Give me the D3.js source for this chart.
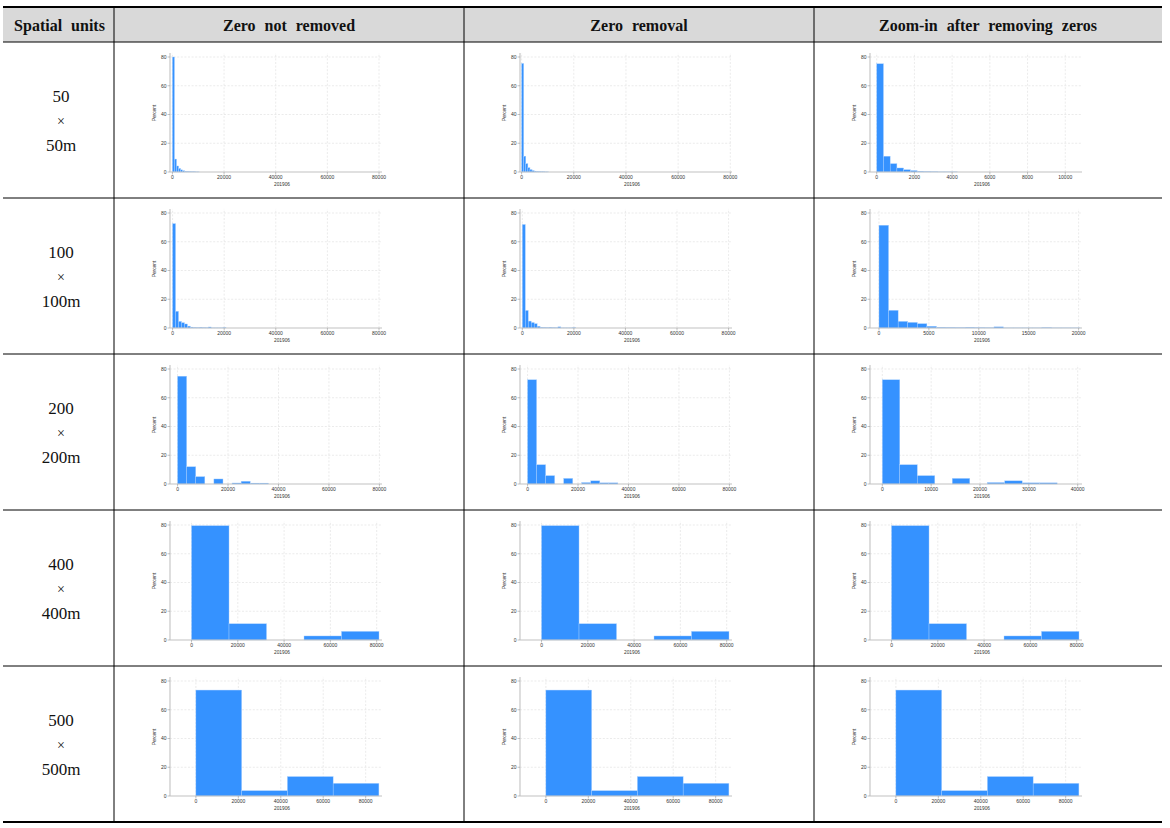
<!DOCTYPE html>
<html><head><meta charset="utf-8">
<script src="https://cdn.jsdelivr.net/npm/d3@7"></script>
<style>body{margin:0;background:#fff}</style>
</head><body>
<svg id="c" width="1170" height="828"></svg>
<script>
// ---------- data ----------
const colHeaders = ["Spatial units", "Zero not removed", "Zero removal", "Zoom-in after removing zeros"];
const rowLabels = [["50", "×", "50m"], ["100", "×", "100m"], ["200", "×", "200m"], ["400", "×", "400m"], ["500", "×", "500m"]];
const xTitle = "201906";
const yTitle = "Percent";
const yTicks = [0, 20, 40, 60, 80];
const ticks80k = [0, 20000, 40000, 60000, 80000];
const ticks10k = [0, 2000, 4000, 6000, 8000, 10000];
const ticks20k = [0, 5000, 10000, 15000, 20000];
const ticks40k = [0, 10000, 20000, 30000, 40000];

// bin widths (row x column)
const binWidths = [
  [800, 800, 357],
  [1150, 1150, 960],
  [3600, 3580, 3580],
  [16200, 16200, 16200],
  [21560, 21560, 21560]
];
// percent per bin
const p50raw  = [80, 9, 4.2, 2.5, 1.5, 0.9, 0.5, 0.4, 0.3, 0.2, 0.2, 0.1, 0.1];
const p50nz   = [75.5, 11, 5.8, 3, 1.7, 1, 0.6, 0.4, 0.3, 0.2, 0.2, 0.1, 0.1];
const p50zoom = [75.3, 11, 5.8, 2.8, 1.6, 1.0, 0.5, 0.3, 0.2, 0.1, 0.1, 0.1];
const p100raw  = [72.6, 11.6, 4.6, 3.7, 2.8, 1.3, 0.6, 0.4, 0.3, 0.5, 0.3, 0.2, 0.7, 0.1, 0.1, 0.1, 0.1, 0.3];
const p100nz   = [72, 12.2, 4.8, 3.8, 3.0, 1.2, 0.5, 0.4, 0.3, 0.5, 0.3, 0.2, 0.8, 0.1, 0.1, 0.1, 0.1, 0.3];
const p100zoom = [71.5, 12.3, 4.6, 3.9, 3.0, 1.2, 0.5, 0.4, 0.3, 0.5, 0.3, 0.2, 0.8, 0.1, 0.1, 0.1, 0.1, 0.3, 0.1, 0.1, 0.1];
const p200raw  = [75, 12, 5.1, 0, 3.5, 0, 0.7, 1.9, 0.6, 0.6];
const p200nz   = [72.5, 13.4, 5.8, 0, 3.9, 0, 1.0, 2.2, 0.8, 0.8];
const p200zoom = [72.5, 13.4, 5.8, 0, 3.9, 0, 1.0, 2.2, 0.8, 0.8];
const p400raw  = [79.5, 11.3, 0, 2.8, 6.0];
const p400nz   = [79.5, 11.3, 0, 2.8, 6.0];
const p400zoom = [79.5, 11.3, 0, 2.8, 6.0];
const p500raw  = [73.7, 3.7, 13.5, 8.8];
const p500nz   = [73.7, 3.7, 13.5, 8.8];
const p500zoom = [73.7, 3.7, 13.5, 8.8];

const percents = [
  [p50raw, p50nz, p50zoom],
  [p100raw, p100nz, p100zoom],
  [p200raw, p200nz, p200zoom],
  [p400raw, p400nz, p400zoom],
  [p500raw, p500nz, p500zoom]
];
// x axis extents (data units) per panel
const xExtents = [
  [[-930, 81150], [-620, 80650], [-356, 10887]],
  [[-1000, 81160], [-900, 81330], [-900, 20340]],
  [[-3000, 81030], [-3000, 81030], [-2520, 40880]],
  [[-9300, 82300], [-9300, 82300], [-9300, 82300]],
  [[-12200, 87700], [-12200, 87700], [-12200, 87700]]
];
const xTickSets = [
  [ticks80k, ticks80k, ticks10k],
  [ticks80k, ticks80k, ticks20k],
  [ticks80k, ticks80k, ticks40k],
  [ticks80k, ticks80k, ticks80k],
  [ticks80k, ticks80k, ticks80k]
];

// ---------- layout ----------
const colX = [3, 114, 464, 814, 1162];
const rowY = [42, 198, 354, 510, 666, 822];
const tableTop = 7;
const svg = d3.select("#c");

// header background
svg.append("rect").attr("x", colX[0]).attr("y", tableTop + 1)
  .attr("width", colX[4] - colX[0]).attr("height", rowY[0] - tableTop - 1)
  .attr("fill", "#d9d9d9");

colHeaders.forEach((h, i) => {
  svg.append("text")
    .attr("x", (colX[i] + colX[i + 1]) / 2 + (i === 0 ? 1 : 0))
    .attr("y", 30.5)
    .attr("text-anchor", "middle")
    .attr("font-family", "Liberation Serif, Times New Roman, serif")
    .attr("font-weight", "bold")
    .attr("font-size", 16)
    .attr("word-spacing", 5)
    .attr("fill", "#111")
    .text(h);
});

rowLabels.forEach((lab, r) => {
  const cy = (rowY[r] + rowY[r + 1]) / 2;
  lab.forEach((t, k) => {
    svg.append("text")
      .attr("x", 61)
      .attr("y", cy + (k - 1) * 24.5 + 6)
      .attr("text-anchor", "middle")
      .attr("font-family", "Liberation Serif, Times New Roman, serif")
      .attr("font-size", k === 1 ? 14 : 17)
      .attr("fill", "#111")
      .text(t);
  });
});

// ---------- panels ----------
const barFill = "#3592ff";
const barEdge = "#a9d0ff";
const axisCol = "#c2c2c2";
const gridCol = "#e3e3e3";
const txtCol = "#333";

for (let r = 0; r < 5; r++) {
  for (let c = 0; c < 3; c++) {
    const cx = colX[c + 1], cy = rowY[r];
    const xs = d3.scaleLinear().domain(xExtents[r][c]).range([cx + 56, cx + 268]);
    const ys = d3.scaleLinear().domain([0, 80]).range([cy + 130, cy + 15]);
    const g = svg.append("g");
    const yTop = 82.8;
    const [xl, xh] = xExtents[r][c];
    const ticks = xTickSets[r][c];

    // grid
    g.selectAll(".hg").data(yTicks.filter(d => d > 0)).join("line")
      .attr("x1", xs(xl)).attr("x2", xs(xh))
      .attr("y1", d => ys(d)).attr("y2", d => ys(d))
      .attr("stroke", gridCol).attr("stroke-width", 0.7).attr("stroke-dasharray", "2,1.6");
    g.selectAll(".vg").data(ticks).join("line")
      .attr("x1", d => xs(d)).attr("x2", d => xs(d))
      .attr("y1", ys(0)).attr("y2", ys(yTop))
      .attr("stroke", gridCol).attr("stroke-width", 0.7).attr("stroke-dasharray", "2,1.6");

    // bars
    const bw = binWidths[r][c];
    const bins = percents[r][c].map((v, i) => ({x0: i * bw, x1: (i + 1) * bw, v}));
    g.selectAll(".bar").data(bins.filter(b => b.v > 0)).join("rect")
      .attr("x", b => xs(b.x0))
      .attr("width", b => xs(b.x1) - xs(b.x0))
      .attr("y", b => ys(b.v))
      .attr("height", b => ys(0) - ys(b.v))
      .attr("fill", barFill)
      .attr("stroke", barEdge).attr("stroke-width", 0.4);

    // axes
    g.append("line").attr("x1", xs(xl)).attr("x2", xs(xl))
      .attr("y1", ys(yTop)).attr("y2", ys(0))
      .attr("stroke", axisCol).attr("stroke-width", 1.1);
    g.append("line").attr("x1", xs(xl)).attr("x2", xs(xh))
      .attr("y1", ys(0)).attr("y2", ys(0))
      .attr("stroke", axisCol).attr("stroke-width", 1.1);

    // y ticks
    g.selectAll(".yt").data(yTicks).join("line")
      .attr("x1", xs(xl) - 2.5).attr("x2", xs(xl))
      .attr("y1", d => ys(d)).attr("y2", d => ys(d))
      .attr("stroke", "#9a9a9a").attr("stroke-width", 0.6);
    g.selectAll(".yl").data(yTicks).join("text")
      .attr("x", xs(xl) - 3.5).attr("y", d => ys(d))
      .attr("dy", "0.35em")
      .attr("text-anchor", "end")
      .attr("font-family", "Liberation Sans, Arial, sans-serif")
      .attr("font-size", 5).attr("fill", txtCol)
      .text(d => d);

    // x ticks
    g.selectAll(".xt").data(ticks).join("line")
      .attr("x1", d => xs(d)).attr("x2", d => xs(d))
      .attr("y1", ys(0)).attr("y2", ys(0) + 2.5)
      .attr("stroke", "#9a9a9a").attr("stroke-width", 0.6);
    g.selectAll(".xl").data(ticks).join("text")
      .attr("x", d => xs(d)).attr("y", cy + 136.8)
      .attr("text-anchor", "middle")
      .attr("font-family", "Liberation Sans, Arial, sans-serif")
      .attr("font-size", 5).attr("fill", txtCol)
      .text(d => d);

    // titles
    g.append("text")
      .attr("transform", `translate(${cx + 41.5},${cy + 71}) rotate(-90)`)
      .attr("text-anchor", "middle")
      .attr("font-family", "Liberation Sans, Arial, sans-serif")
      .attr("font-size", 4.8).attr("fill", txtCol)
      .text(yTitle);
    g.append("text")
      .attr("x", cx + 168).attr("y", cy + 143.8)
      .attr("text-anchor", "middle")
      .attr("font-family", "Liberation Sans, Arial, sans-serif")
      .attr("font-size", 4.8).attr("fill", txtCol)
      .text(xTitle);
  }
}

// ---------- table rules ----------
const lines = svg.append("g").attr("stroke", "#000");
lines.append("line").attr("x1", colX[0]).attr("x2", colX[4]).attr("y1", tableTop).attr("y2", tableTop).attr("stroke-width", 2);
rowY.slice(0, 5).forEach(y => {
  lines.append("line").attr("x1", colX[0]).attr("x2", colX[4]).attr("y1", y).attr("y2", y).attr("stroke-width", 1);
});
lines.append("line").attr("x1", colX[0]).attr("x2", colX[4]).attr("y1", rowY[5]).attr("y2", rowY[5]).attr("stroke-width", 2);
[colX[1], colX[2], colX[3]].forEach(x => {
  lines.append("line").attr("x1", x).attr("x2", x).attr("y1", tableTop).attr("y2", rowY[5]).attr("stroke-width", 1);
});
</script>
</body></html>
